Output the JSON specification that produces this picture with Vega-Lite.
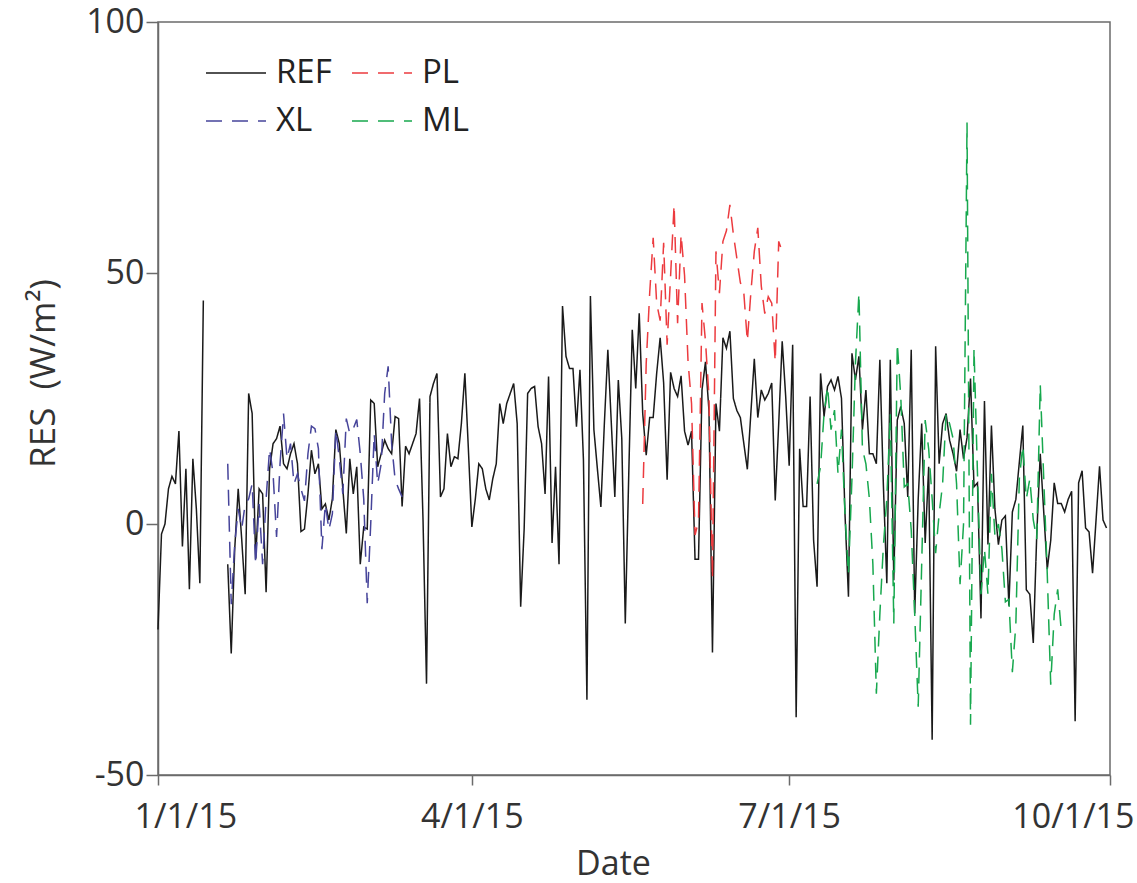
{
"$schema": "https://vega.github.io/schema/vega-lite/v6.json",
"width": 952, "height": 753,
"autosize": {"type": "none"},
"padding": {"left": 158, "top": 22, "right": 27, "bottom": 108},
"background": "white",
"config": {"font": "Open Sans", "view": {"stroke": "#6b6b6b", "strokeWidth": 1.5}, "mark": {"invalid": "break-paths-filter-domains"}},
"data": {"values": [
{"d":"2015/01/01","REF":-21},{"d":"2015/01/02","REF":-2},{"d":"2015/01/03","REF":0},{"d":"2015/01/04","REF":7},{"d":"2015/01/05","REF":9.5},{"d":"2015/01/06","REF":8},{"d":"2015/01/07","REF":18.5},{"d":"2015/01/08","REF":-4.5},{"d":"2015/01/09","REF":11},{"d":"2015/01/10","REF":-13},{"d":"2015/01/11","REF":13},{"d":"2015/01/12","REF":3},{"d":"2015/01/13","REF":-11.8},{"d":"2015/01/14","REF":44.5},{"d":"2015/01/17","REF":null},
{"d":"2015/01/21","REF":-8,"XL":12},{"d":"2015/01/22","REF":-25.8,"XL":-16},{"d":"2015/01/23","REF":-5,"XL":-4},{"d":"2015/01/24","REF":7,"XL":3},{"d":"2015/01/25","REF":-3,"XL":-1},{"d":"2015/01/26","REF":-14,"XL":4},{"d":"2015/01/27","REF":26,"XL":5},{"d":"2015/01/28","REF":22,"XL":8},{"d":"2015/01/29","REF":-7,"XL":-8},{"d":"2015/01/30","REF":7,"XL":4},{"d":"2015/01/31","REF":6,"XL":-8},
{"d":"2015/02/01","REF":-13.6,"XL":5},{"d":"2015/02/02","REF":11,"XL":15},{"d":"2015/02/03","REF":16,"XL":10},{"d":"2015/02/04","REF":17,"XL":-2.6},{"d":"2015/02/05","REF":19.5,"XL":12},{"d":"2015/02/06","REF":12,"XL":22},{"d":"2015/02/07","REF":11,"XL":13},{"d":"2015/02/08","REF":14,"XL":16},{"d":"2015/02/09","REF":16,"XL":8},{"d":"2015/02/10","REF":12,"XL":10},{"d":"2015/02/11","REF":-1.5,"XL":7},{"d":"2015/02/12","REF":-1,"XL":4.6},{"d":"2015/02/13","REF":6,"XL":14},{"d":"2015/02/14","REF":14.7,"XL":19.5},{"d":"2015/02/15","REF":10,"XL":19},{"d":"2015/02/16","REF":12,"XL":15},{"d":"2015/02/17","REF":3,"XL":-5},{"d":"2015/02/18","REF":4,"XL":4},{"d":"2015/02/19","REF":0.8,"XL":-1.2},{"d":"2015/02/20","REF":5,"XL":2},{"d":"2015/02/21","REF":18.8,"XL":18.8},{"d":"2015/02/22","REF":16,"XL":13},{"d":"2015/02/23","REF":7,"XL":6},{"d":"2015/02/24","REF":-1.9,"XL":21},{"d":"2015/02/25","REF":13,"XL":18},{"d":"2015/02/26","REF":6,"XL":19},{"d":"2015/02/27","REF":11.4,"XL":20.8},{"d":"2015/02/28","REF":-8,"XL":14},
{"d":"2015/03/01","REF":-0.6,"XL":5},{"d":"2015/03/02","REF":-1,"XL":-15.8},{"d":"2015/03/03","REF":24.7,"XL":0},{"d":"2015/03/04","REF":24,"XL":18},{"d":"2015/03/05","REF":11.4,"XL":8},{"d":"2015/03/06","REF":14,"XL":12},{"d":"2015/03/07","REF":16.7,"XL":26},{"d":"2015/03/08","REF":15,"XL":31.4},{"d":"2015/03/09","REF":14,"XL":16},{"d":"2015/03/10","REF":21.4,"XL":8.8},{"d":"2015/03/11","REF":21,"XL":7},{"d":"2015/03/12","REF":3.5,"XL":5.4},{"d":"2015/03/13","REF":15.5},{"d":"2015/03/14","REF":14},{"d":"2015/03/15","REF":16},{"d":"2015/03/16","REF":18},{"d":"2015/03/17","REF":25},{"d":"2015/03/18","REF":0.8},{"d":"2015/03/19","REF":-31.8},{"d":"2015/03/20","REF":25.4},{"d":"2015/03/21","REF":28},{"d":"2015/03/22","REF":30},{"d":"2015/03/23","REF":5.4},{"d":"2015/03/24","REF":7},{"d":"2015/03/25","REF":18},{"d":"2015/03/26","REF":11.4},{"d":"2015/03/27","REF":13.4},{"d":"2015/03/28","REF":13},{"d":"2015/03/29","REF":20},{"d":"2015/03/30","REF":30},{"d":"2015/03/31","REF":15},
{"d":"2015/04/01","REF":-0.6},{"d":"2015/04/02","REF":5},{"d":"2015/04/03","REF":12},{"d":"2015/04/04","REF":11},{"d":"2015/04/05","REF":7},{"d":"2015/04/06","REF":4.8},{"d":"2015/04/07","REF":9},{"d":"2015/04/08","REF":12},{"d":"2015/04/09","REF":24},{"d":"2015/04/10","REF":20},{"d":"2015/04/11","REF":24},{"d":"2015/04/12","REF":26},{"d":"2015/04/13","REF":28},{"d":"2015/04/14","REF":20},{"d":"2015/04/15","REF":-16.5},{"d":"2015/04/16","REF":-1},{"d":"2015/04/17","REF":26},{"d":"2015/04/18","REF":27},{"d":"2015/04/19","REF":27.4},{"d":"2015/04/20","REF":19.4},{"d":"2015/04/21","REF":16},{"d":"2015/04/22","REF":6},{"d":"2015/04/23","REF":29.4},{"d":"2015/04/24","REF":-3.8},{"d":"2015/04/25","REF":11.4},{"d":"2015/04/26","REF":-8},{"d":"2015/04/27","REF":43.4},{"d":"2015/04/28","REF":33.4},{"d":"2015/04/29","REF":31},{"d":"2015/04/30","REF":31},
{"d":"2015/05/01","REF":19.4},{"d":"2015/05/02","REF":30.7},{"d":"2015/05/03","REF":12.8},{"d":"2015/05/04","REF":-35},{"d":"2015/05/05","REF":45.4},{"d":"2015/05/06","REF":18.8},{"d":"2015/05/07","REF":11},{"d":"2015/05/08","REF":3.4},{"d":"2015/05/09","REF":20},{"d":"2015/05/10","REF":34.7},{"d":"2015/05/11","REF":20},{"d":"2015/05/12","REF":5.4},{"d":"2015/05/13","REF":28.7},{"d":"2015/05/14","REF":17},{"d":"2015/05/15","REF":-19.8},{"d":"2015/05/16","REF":10},{"d":"2015/05/17","REF":38.7},{"d":"2015/05/18","REF":27},{"d":"2015/05/19","REF":42},
{"d":"2015/05/20","REF":22,"PL":4},{"d":"2015/05/21","REF":13.7,"PL":32},{"d":"2015/05/22","REF":21.2,"PL":46},{"d":"2015/05/23","REF":21.2,"PL":57},{"d":"2015/05/24","REF":30,"PL":44},{"d":"2015/05/25","REF":37.1,"PL":40.5},{"d":"2015/05/26","REF":28.1,"PL":56},{"d":"2015/05/27","REF":8.8,"PL":35.7},{"d":"2015/05/28","REF":30.2,"PL":49.5},{"d":"2015/05/29","REF":27,"PL":63.6},{"d":"2015/05/30","REF":25.4,"PL":40},{"d":"2015/05/31","REF":29.5,"PL":57.7},
{"d":"2015/06/01","REF":18.5,"PL":49.5},{"d":"2015/06/02","REF":15.7,"PL":32.3},{"d":"2015/06/03","REF":18.5,"PL":24},{"d":"2015/06/04","REF":-7,"PL":-2.2},{"d":"2015/06/05","REF":-7,"PL":0.6},{"d":"2015/06/06","REF":26.7,"PL":44},{"d":"2015/06/07","REF":32.3,"PL":36.4},{"d":"2015/06/08","REF":22.6,"PL":25.4},{"d":"2015/06/09","REF":-25.6,"PL":-11},{"d":"2015/06/10","REF":24,"PL":54.3},{"d":"2015/06/11","REF":18.5,"PL":46},{"d":"2015/06/12","REF":37.1,"PL":56.3},{"d":"2015/06/13","REF":35,"PL":58.4},{"d":"2015/06/14","REF":38.4,"PL":63.6},{"d":"2015/06/15","REF":25,"PL":57.7},{"d":"2015/06/16","REF":22.6,"PL":52.9},{"d":"2015/06/17","REF":21.2,"PL":48.1},{"d":"2015/06/18","REF":16,"PL":46},{"d":"2015/06/19","REF":10.9,"PL":36.4},{"d":"2015/06/20","REF":22,"PL":46},{"d":"2015/06/21","REF":32.9,"PL":54.3},{"d":"2015/06/22","REF":21.2,"PL":59},{"d":"2015/06/23","REF":26.7,"PL":47.4},{"d":"2015/06/24","REF":24.7,"PL":41.9},{"d":"2015/06/25","REF":26,"PL":45.3},{"d":"2015/06/26","REF":28.1,"PL":44},{"d":"2015/06/27","REF":4.7,"PL":32.3},{"d":"2015/06/28","REF":20,"PL":56.3},{"d":"2015/06/29","REF":36.4,"PL":54.3},{"d":"2015/06/30","REF":25.4},
{"d":"2015/07/01","REF":11.6},{"d":"2015/07/02","REF":35.7},{"d":"2015/07/03","REF":-38.5},{"d":"2015/07/04","REF":15},{"d":"2015/07/05","REF":3.5},{"d":"2015/07/06","REF":3.5},{"d":"2015/07/07","REF":25.4},{"d":"2015/07/08","REF":-3.2},
{"d":"2015/07/09","REF":-12.5,"ML":8},{"d":"2015/07/10","REF":30,"ML":11.4},{"d":"2015/07/11","REF":21.4,"ML":22},{"d":"2015/07/12","REF":27.4,"ML":27.4},{"d":"2015/07/13","REF":28.7,"ML":18.8},{"d":"2015/07/14","REF":26.7,"ML":22.7},{"d":"2015/07/15","REF":29.4,"ML":10},{"d":"2015/07/16","REF":25,"ML":18.8},{"d":"2015/07/17","REF":2.1,"ML":2.1},{"d":"2015/07/18","REF":-14.5,"ML":-10},{"d":"2015/07/19","REF":34,"ML":9},{"d":"2015/07/20","REF":28.7,"ML":32},{"d":"2015/07/21","REF":33.4,"ML":46},{"d":"2015/07/22","REF":18.8,"ML":15},{"d":"2015/07/23","REF":26.7,"ML":12},{"d":"2015/07/24","REF":14,"ML":5},{"d":"2015/07/25","REF":14,"ML":-8},{"d":"2015/07/26","REF":12,"ML":-33.8},{"d":"2015/07/27","REF":32.7,"ML":-18},{"d":"2015/07/28","REF":8,"ML":-4.5},{"d":"2015/07/29","REF":-11.8,"ML":5},{"d":"2015/07/30","REF":32.7,"ML":22},{"d":"2015/07/31","REF":-11.2,"ML":-19.8},
{"d":"2015/08/01","REF":20.7,"ML":36},{"d":"2015/08/02","REF":23.4,"ML":25.4},{"d":"2015/08/03","REF":20,"ML":7.4},{"d":"2015/08/04","REF":5.4,"ML":8},{"d":"2015/08/05","REF":34.7,"ML":-1.2},{"d":"2015/08/06","REF":-17.8,"ML":-18},{"d":"2015/08/07","REF":5,"ML":-36.4},{"d":"2015/08/08","REF":20,"ML":-8},{"d":"2015/08/09","REF":-3.8,"ML":20.7},{"d":"2015/08/10","REF":11.4,"ML":15},{"d":"2015/08/11","REF":-43,"ML":5},{"d":"2015/08/12","REF":35.4,"ML":-5.8},{"d":"2015/08/13","REF":12,"ML":2},{"d":"2015/08/14","REF":20,"ML":8},{"d":"2015/08/15","REF":22,"ML":22},{"d":"2015/08/16","REF":16.7,"ML":20},{"d":"2015/08/17","REF":14,"ML":17},{"d":"2015/08/18","REF":10.5,"ML":8},{"d":"2015/08/19","REF":18.8,"ML":-12},{"d":"2015/08/20","REF":13,"ML":0},{"d":"2015/08/21","REF":17.2,"ML":80},{"d":"2015/08/22","REF":29,"ML":-40},{"d":"2015/08/23","REF":7.4,"ML":35},{"d":"2015/08/24","REF":8.2,"ML":10},{"d":"2015/08/25","REF":-18.8,"ML":-14},{"d":"2015/08/26","REF":24.5,"ML":-5},{"d":"2015/08/27","REF":-4.1,"ML":-14},{"d":"2015/08/28","REF":19.6,"ML":10},{"d":"2015/08/29","REF":3,"ML":-2.4},{"d":"2015/08/30","REF":-4.1,"ML":0},{"d":"2015/08/31","REF":0.8,"ML":-5},
{"d":"2015/09/01","REF":1.6,"ML":-15.5},{"d":"2015/09/02","REF":-16.3,"ML":-15},{"d":"2015/09/03","REF":2.4,"ML":-29.5},{"d":"2015/09/04","REF":4.9,"ML":-20},{"d":"2015/09/05","REF":12.3,"ML":9},{"d":"2015/09/06","REF":19.6,"ML":15.6},{"d":"2015/09/07","REF":-13.1,"ML":5},{"d":"2015/09/08","REF":-14,"ML":9},{"d":"2015/09/09","REF":-23.7,"ML":0.8},{"d":"2015/09/10","REF":-2,"ML":-3},{"d":"2015/09/11","REF":14,"ML":27.8},{"d":"2015/09/12","REF":2.4,"ML":9},{"d":"2015/09/13","REF":-9,"ML":-9.8},{"d":"2015/09/14","REF":-3.3,"ML":-32},{"d":"2015/09/15","REF":8.2,"ML":-18},{"d":"2015/09/16","REF":4.1,"ML":-13},{"d":"2015/09/17","REF":4.1,"ML":-21},{"d":"2015/09/18","REF":2.4},{"d":"2015/09/19","REF":4.9},{"d":"2015/09/20","REF":6.5},{"d":"2015/09/21","REF":-39.3},{"d":"2015/09/22","REF":8.2},{"d":"2015/09/23","REF":10.6},{"d":"2015/09/24","REF":-0.8},{"d":"2015/09/25","REF":-1.6},{"d":"2015/09/26","REF":-9.8},{"d":"2015/09/27","REF":0.8},{"d":"2015/09/28","REF":11.5},{"d":"2015/09/29","REF":0.8},{"d":"2015/09/30","REF":-0.8}
]},
"transform": [{"fold": ["REF", "XL", "PL", "ML"], "as": ["series", "value"]}],
"mark": {"type": "line", "strokeWidth": 1.5},
"encoding": {
"x": {"field": "d", "type": "temporal",
 "scale": {"domain": [{"year": 2015, "month": 1, "date": 1}, {"year": 2015, "month": 10, "date": 1}], "nice": false},
 "axis": {"values": [{"year": 2015, "month": 1, "date": 1}, {"year": 2015, "month": 4, "date": 1}, {"year": 2015, "month": 7, "date": 1}, {"year": 2015, "month": 10, "date": 1}],
  "format": "%-m/%-d/%y", "title": "Date", "grid": false, "domainColor": "#6b6b6b", "domainWidth": 1.5, "tickColor": "#6b6b6b", "tickWidth": 1.5, "tickSize": 10,
  "labelFont": "Open Sans", "labelFontSize": 34, "labelColor": "#333333", "labelPadding": 42, "labelBaseline": "alphabetic", "labelDx": 2, "labelFlush": true, "labelFlushOffset": 24, "labelOverlap": false,
  "titleFont": "Open Sans", "titleFontSize": 34, "titleFontWeight": "normal", "titleColor": "#333333", "titleX": 455, "titleY": 99, "titleBaseline": "alphabetic", "titleAlign": "center", "titleAnchor": null}},
"y": {"field": "value", "type": "quantitative",
 "scale": {"domain": [-50, 100], "nice": false, "zero": false},
 "axis": {"values": [-50, 0, 50, 100], "labelExpr": "'' + datum.value", "title": "RES\u00a0 (W/m²)", "grid": false, "domainColor": "#6b6b6b", "domainWidth": 1.5, "tickColor": "#6b6b6b", "tickWidth": 1.5, "tickSize": 12,
  "labelFont": "Open Sans", "labelFontSize": 34, "labelColor": "#333333", "labelPadding": 2, "labelFlush": false, "labelOverlap": false,
  "titleFont": "Open Sans", "titleFontSize": 35, "titleFontWeight": "normal", "titleColor": "#333333", "titleX": -104, "titleY": 351, "titleBaseline": "alphabetic", "titleAngle": -90, "titleAlign": "center", "titleAnchor": null}},
"color": {"field": "series", "type": "nominal",
 "scale": {"domain": ["REF", "XL", "PL", "ML"], "range": ["#1a1a1a", "#46449a", "#ec3b3f", "#17a84e"]},
 "legend": {"orient": "none", "legendX": 47, "legendY": 20, "columns": 2, "title": null, "symbolType": "stroke", "symbolSize": 3600, "symbolStrokeWidth": 1.6, "labelFont": "Open Sans", "labelFontSize": 33, "labelColor": "#222222", "labelOffset": 9, "columnPadding": 16, "rowPadding": 0, "padding": 0, "labelLimit": 300}},
"strokeDash": {"field": "series", "type": "nominal",
 "scale": {"domain": ["REF", "XL", "PL", "ML"], "range": [[1, 0], [16, 10], [16, 10], [16, 10]]},
 "legend": {"orient": "none", "legendX": 47, "legendY": 20, "columns": 2, "title": null, "symbolType": "stroke", "symbolSize": 3600, "symbolStrokeWidth": 1.6, "labelFont": "Open Sans", "labelFontSize": 33, "labelColor": "#222222", "labelOffset": 9, "columnPadding": 16, "rowPadding": 0, "padding": 0, "labelLimit": 300}}
}
}
